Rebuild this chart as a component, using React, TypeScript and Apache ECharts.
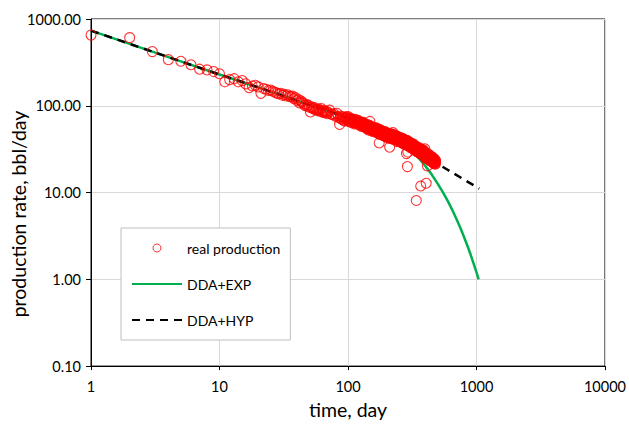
import React, { useEffect, useRef } from "react";
import * as echarts from "echarts";

// ---- data ----
const prodDays = [
  1, 2, 3, 4, 5, 6, 7, 8, 9,
  10, 11, 12, 13, 14, 15, 16, 17, 18, 19, 20, 21, 22, 23, 24, 25, 26, 27, 28, 29, 30,
  31, 32, 33, 34, 35, 36, 37, 38, 39, 40, 41, 42, 43, 44, 45, 46, 47, 48, 49, 50,
  51, 52, 53, 54, 55, 56, 57, 58, 59, 60, 61, 62, 63, 64, 65, 66, 67, 68, 69, 70,
  72, 74, 76, 78, 80, 82, 84, 86, 87,
  88, 90, 92, 94, 96, 98, 100,
  102, 104, 106, 108, 110, 112, 114, 116, 118, 120, 122, 124, 126, 128, 130, 132, 134, 136, 138, 140, 142, 144, 146, 148, 150,
  152, 154, 156, 158, 160, 162, 164, 166, 168, 170, 172, 174, 176, 178, 180, 182, 184, 186, 188, 190, 192, 194, 196, 198, 200,
  202, 204, 206, 208, 210, 212, 214, 216, 218, 220, 222, 224, 226, 228, 230, 232, 234, 236, 238, 240, 242, 244, 246, 248, 250,
  252, 254, 256, 258, 260, 262, 264, 266, 268, 270, 272, 274, 276, 278, 280, 282, 284, 286, 288, 290, 292, 294, 296, 298, 300,
  302, 304, 306, 308, 310, 312, 314, 316, 318, 320, 322, 324, 326, 328, 330, 332, 334, 336, 338, 340, 342, 344, 346, 348, 350,
  352, 354, 356, 358, 360, 362, 364, 366, 368, 370, 372, 374, 376, 378, 380, 382, 384, 386, 388, 390, 392, 394, 396, 398, 400,
  402, 404, 406, 408, 410, 412, 414, 416, 418, 420, 422, 424, 426, 428, 430, 432, 434, 436, 438, 440, 442, 444, 446, 448, 450,
  452, 454, 456, 458, 460, 462, 464, 466, 468, 470, 472, 474, 476, 478, 480,
  89, 91, 93, 95, 97, 99,
  101, 103, 105, 107, 109, 111, 113, 115, 117, 119, 121, 123, 125, 127, 129, 131, 133, 135, 137, 139, 141, 143, 145, 147, 149,
  151, 153, 155, 157, 159, 161, 163, 165, 167, 169, 171, 173, 175, 177, 179, 181, 183, 185, 187, 189, 191, 193, 195, 197, 199,
  201, 203, 205, 207, 209, 211, 213, 215, 217, 219, 221, 223, 225, 227, 229, 231, 233, 235, 237, 239, 241, 243, 245, 247, 249,
  251, 253, 255, 257, 259, 261, 263, 265, 267, 269, 271, 273, 275, 277, 279, 281, 283, 285, 287, 289, 291, 293, 295, 297, 299,
  301, 303, 305, 307, 309, 311, 313, 315, 317, 319, 321, 323, 325, 327, 329, 331, 333, 335, 337, 339, 341, 343, 345, 347, 349,
  351, 353, 355, 357, 359, 361, 363, 365, 367, 369, 371, 373, 375, 377, 379, 381, 383, 385, 387, 389, 391, 393, 395, 397, 399,
  401, 403, 405, 407, 409, 411, 413, 415, 417, 419, 421, 423, 425, 427, 429, 431, 433, 435, 437, 439, 441, 443, 445, 447, 449,
  451, 453, 455, 457, 459, 461, 463, 465, 467, 469, 471, 473, 475, 477, 479,
  148, 175, 211, 224, 285, 290, 292, 340, 368, 396, 406, 415,
];
const prodRate = [
  652, 610, 421, 340, 326, 297, 264, 259, 248,
  234, 189, 200, 205, 189, 195, 179, 162, 169, 172, 165, 139, 158, 155, 150, 152, 147, 143, 140, 137, 139,
  132, 135, 130, 134, 128, 126, 129, 121, 124, 115, 118, 108, 114, 110, 106, 101, 104, 99, 102, 96,
  85, 97, 94, 92, 95, 90, 91, 88, 92, 89, 86, 93, 87, 84, 88, 85, 83, 86, 81, 84,
  89, 80, 79, 81, 76, 82, 74, 61, 72,
  75.6, 69.5, 72, 66.7, 73.5, 69.6, 74.9,
  66.6, 70.2, 64.8, 69.6, 67, 61.8, 69.7, 63.9, 65.2, 67.2, 61.5, 63.4, 58.5, 64.1, 60.4, 64.6, 57.4, 60.4, 55.7, 59.7, 57.4, 52.8, 59.6, 54.5, 55.6,
  57.4, 52.7, 54.5, 50.3, 55.3, 52.3, 56.2, 50, 52.8, 48.8, 52.6, 50.7, 46.8, 53, 48.6, 49.7, 51.3, 47.1, 48.6, 44.9, 49.3, 46.6, 50, 44.5, 46.9,
  43.5, 47, 45.4, 42.2, 47.7, 43.9, 45.1, 46.7, 43, 44.7, 41.6, 45.8, 43.3, 46.6, 41.8, 44.1, 41, 44.2, 42.8, 38.7, 43.9, 40.5, 41.6, 43.2, 39.8,
  41.2, 38.2, 42, 39.8, 42.8, 38.2, 40.4, 37.4, 40.4, 39, 36.1, 40.9, 37.6, 38.6, 39.9, 36.7, 38, 35.2, 38.8, 36.8, 39.6, 35.4, 37.5, 34.8, 37.1,
  35.8, 33.1, 37.5, 34.5, 35.4, 36.5, 33.6, 34.8, 32.3, 35.6, 33.7, 36.2, 32.4, 34.2, 31.7, 34.1, 32.6, 30.1, 34.1, 31.4, 32.2, 33.3, 30.6, 31.7, 29.1,
  32.1, 30.4, 32.9, 29.4, 31.2, 28.9, 31.2, 30.2, 28, 31.8, 29.3, 30.1, 31.2, 28.7, 29.8, 27.5, 30.3, 28.7, 30.9, 27.6, 29.2, 27.1, 29.3, 28.4, 25.1,
  28.5, 26.1, 26.9, 27.8, 25.6, 26.6, 24.7, 27.2, 25.9, 27.9, 25, 26.5, 24.6, 26.6, 25.2, 23.4, 26.6, 24.5, 25.2, 26.1, 24.1, 25, 23.2, 25.1, 23.8,
  25.6, 22.9, 24.2, 22.4, 24.2, 23.4, 21.7, 24.6, 22.7, 23.2, 24, 22.1, 23, 21.2, 23.4,
  70.4, 74.4, 67.6, 71.5, 74.7, 68.1,
  71.1, 65, 71.9, 67.2, 69.3, 64, 64.8, 68.1, 61.7, 64.9, 67.5, 61.2, 63.8, 58.2, 64.4, 60.1, 61.9, 57.1, 57.7, 60.6, 54.8, 57.7, 59.9, 54.2, 56.4,
  51.5, 57.2, 53.6, 55.3, 51.3, 51.9, 54.8, 49.7, 52.4, 54.7, 49.7, 51.9, 47.5, 52.6, 49.3, 50.9, 47.1, 47.7, 50.2, 45.6, 48.1, 50.1, 45.5, 47.4, 43.4,
  48.2, 45.2, 46.9, 43.5, 44.2, 46.7, 42.5, 45, 47, 43, 45, 41.3, 45.9, 43.1, 44.6, 41.4, 42, 44.4, 40.4, 42.8, 44.8, 40.8, 42.7, 39.2, 43.2,
  40.5, 41.9, 38.9, 39.5, 41.7, 37.9, 40.1, 41.9, 38.2, 40, 36.7, 40.8, 38.3, 39.8, 36.9, 37.6, 39.7, 36.1, 37.6, 39.3, 35.9, 37.6, 34.5, 38.3, 35.7,
  37, 34.3, 34.8, 36.7, 33.3, 35.2, 36.8, 33.5, 35, 32, 35.5, 33.4, 34.5, 31.9, 32.3, 34.1, 30.9, 32.7, 34.1, 31.1, 32.5, 29.7, 33, 30.8, 31.6,
  29.7, 30.2, 31.8, 28.9, 30.6, 31.9, 29.1, 30.4, 27.8, 31, 29, 30.1, 27.8, 28.2, 29.8, 27.1, 28.7, 29.9, 27.2, 28.5, 26, 29, 27.1, 28, 26,
  26.4, 27.9, 25.4, 26.8, 28, 25.6, 26.7, 24.5, 27.3, 25.6, 26.5, 24.6, 25, 26.4, 24, 25.4, 26.5, 24.2, 25.3, 23.2, 25.8, 24.2, 25, 23.2, 23.6,
  24.9, 22.7, 24, 25.1, 22.8, 23.9, 21.9, 24.4, 22.9, 23.7, 22, 22.4, 23.7, 21.5, 22.8,
  66, 37.3, 33.3, 49, 28.1, 19.9, 29.3, 8.1, 11.9, 31.9, 12.8, 20.3,
];

const hypDays = [1, 2, 3, 5, 7, 10, 15, 20, 30, 50, 70, 100, 150, 200, 300, 400, 500, 600, 800, 1000, 1050];
const hypRate = [735, 517, 421, 325, 274, 229, 188, 163, 133, 102, 87, 72.4, 56, 46, 34, 26.3, 21.4, 18.2, 14.1, 11.6, 11.1];

const expDays = [1, 2, 3, 5, 7, 10, 15, 20, 30, 50, 70, 100, 150, 200, 265, 300, 350, 400, 450, 500, 550, 600, 650, 700, 750, 800, 850, 900, 950, 1000, 1040];
const expRate = [735, 517, 421, 325, 274, 229, 188, 163, 133, 102, 87, 72.4, 56, 46, 37.5, 32.3, 25.6, 20.2, 16.0, 12.6, 10.0, 7.9, 6.24, 4.93, 3.9, 3.08, 2.44, 1.93, 1.52, 1.2, 1.0];

const seriesNames = ["real production", "DDA+EXP", "DDA+HYP"];
const xTitle = "time, day";
const yTitle = "production rate, bbl/day";

const FONT = "Lato, 'Liberation Sans', sans-serif";

function pairs(xs: number[], ys: number[]) {
  return xs.map((x, i) => [x, ys[i]]);
}

export default function App() {
  const ref = useRef<HTMLDivElement>(null);
  useEffect(() => {
    if (!ref.current) return;
    const chart = echarts.init(ref.current, null, { renderer: "svg" });
    chart.setOption({
      animation: false,
      backgroundColor: "#ffffff",
      textStyle: { fontFamily: FONT },
      grid: {
        left: 91,
        right: 21,
        top: 19,
        bottom: 46,
        show: true,
        borderColor: "#000",
        borderWidth: 1,
        backgroundColor: "transparent",
      },
      xAxis: {
        type: "log",
        logBase: 10,
        min: 1,
        max: 10000,
        name: xTitle,
        nameLocation: "middle",
        nameGap: 27,
        nameTextStyle: { fontSize: 19.5, color: "#000", fontFamily: FONT },
        axisLine: { show: true, lineStyle: { color: "#000", width: 1 } },
        axisTick: { show: true, length: 4, lineStyle: { color: "#000" } },
        minorTick: { show: false },
        axisLabel: {
          color: "#000",
          fontSize: 14.5,
          margin: 13,
          fontFamily: FONT,
          formatter: (v: number) => String(Math.round(v)),
        },
        splitLine: { show: true, lineStyle: { color: "#d9d9d9", width: 1 } },
      },
      yAxis: {
        type: "log",
        logBase: 10,
        min: 0.1,
        max: 1000,
        axisLine: { show: true, lineStyle: { color: "#000", width: 1 } },
        axisTick: { show: true, length: 5, lineStyle: { color: "#000" } },
        axisLabel: {
          color: "#000",
          fontSize: 14.5,
          margin: 10,
          fontFamily: FONT,
          formatter: (v: number) => Number(v).toFixed(2),
        },
        splitLine: { show: true, lineStyle: { color: "#d9d9d9", width: 1 } },
      },
      legend: {
        orient: "vertical",
        left: 121,
        top: 228,
        itemWidth: 50,
        itemHeight: 8,
        itemGap: 22,
        padding: [13, 10, 13, 10],
        backgroundColor: "#ffffff",
        borderColor: "#bfbfbf",
        borderWidth: 1,
        data: [
          {
            name: seriesNames[0],
            icon: "circle",
            itemStyle: { color: "rgba(0,0,0,0)", borderColor: "#ff0000", borderWidth: 1 },
          },
          { name: seriesNames[1], itemStyle: { opacity: 0 } },
          { name: seriesNames[2], itemStyle: { opacity: 0 } },
        ],
        textStyle: { fontSize: 14, color: "#000", fontFamily: FONT },
      },
      graphic: [
        {
          type: "text",
          x: 18,
          y: 214,
          rotation: Math.PI / 2,
          style: {
            text: yTitle,
            fontSize: 19.5,
            fontFamily: FONT,
            fill: "#000",
            textAlign: "center",
            textVerticalAlign: "middle",
          },
        },
      ],
      series: [
        {
          name: seriesNames[1],
          type: "line",
          data: pairs(expDays, expRate),
          symbol: "none",
          showSymbol: false,
          lineStyle: { color: "#00b050", width: 2.5 },
          itemStyle: { color: "#00b050" },
          z: 2,
        },
        {
          name: seriesNames[2],
          type: "line",
          data: pairs(hypDays, hypRate),
          symbol: "none",
          showSymbol: false,
          lineStyle: { color: "#000", width: 2.5, type: [8, 6] },
          itemStyle: { color: "#000" },
          z: 3,
        },
        {
          name: seriesNames[0],
          type: "scatter",
          data: pairs(prodDays, prodRate),
          symbol: "circle",
          symbolSize: 10,
          itemStyle: { color: "rgba(0,0,0,0)", borderColor: "#ff0000", borderWidth: 1.1 },
          z: 4,
        },
      ],
    });
    return () => chart.dispose();
  }, []);
  return (
    <div
      ref={ref}
      style={{ position: "fixed", left: 0, top: 0, width: 629, height: 424 }}
    />
  );
}
